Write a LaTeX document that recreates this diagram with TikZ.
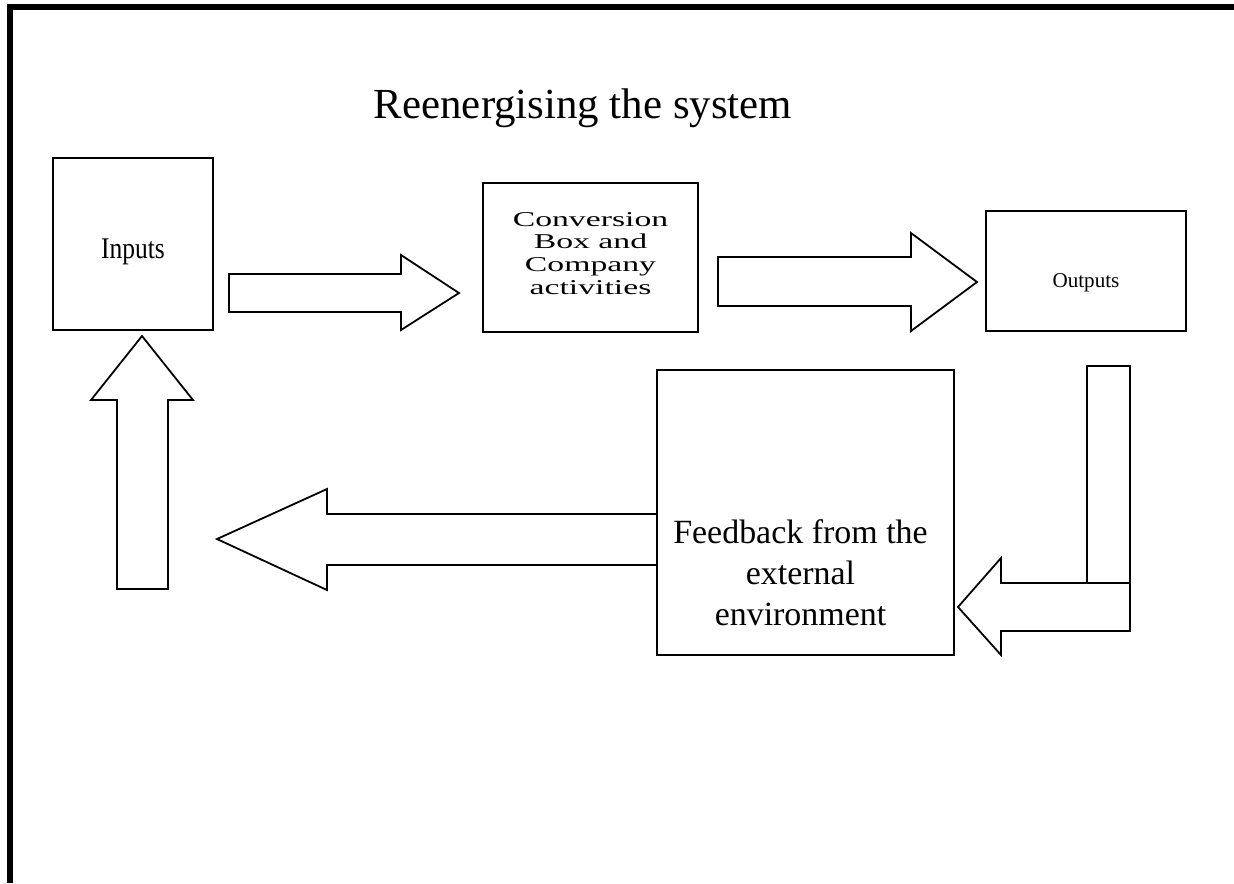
\documentclass[tikz,border=0pt]{standalone}
\usepackage{fontspec}
\setmainfont{Liberation Serif}
\newfontfamily\widefont[FakeStretch=1.6]{Liberation Serif}
\newfontfamily\narrowfont[FakeStretch=0.85]{Liberation Serif}
\usepackage{tikz}

\tikzset{
  box/.style={draw, line width=0.45pt, inner sep=0pt},
  blockarrow/.style={draw, line width=0.5pt, line join=miter}
}

\begin{document}
\begin{tikzpicture}[x=0.28pt, y=-0.28pt]
  \useasboundingbox (0,0) rectangle (1234,883);
  % page frame: thick rule on top and left only
  \draw[line width=1.7pt] (10,883) -- (10,7) -- (1234,7);
  % title
  \node (title) at (583,108) {\fontsize{12}{14}\selectfont Reenergising the system};
  % the three boxes of the top row
  \node[box, minimum width=160*0.28pt, minimum height=172*0.28pt,
        label={[yshift=-8*0.28pt, font=\narrowfont\fontsize{8.4}{10}\selectfont]center:Inputs}] (inputs) at (133,244) {};
  \node[box, minimum width=215*0.28pt, minimum height=149*0.28pt,
        label={[yshift=4*0.28pt, align=center, font=\widefont\fontsize{5.9}{6.4}\selectfont]center:Conversion\\Box and\\Company\\activities}] (conv) at (590.5,257.5) {};
  \node[box, minimum width=200*0.28pt, minimum height=120*0.28pt,
        label={[yshift=-12*0.28pt, font=\fontsize{5.9}{7}\selectfont]center:Outputs}] (outputs) at (1086,271) {};
  % feedback box, text sits low
  \node[box, minimum width=297*0.28pt, minimum height=285*0.28pt,
        label={[yshift=-60*0.28pt, xshift=-5*0.28pt, align=center, font=\fontsize{9.5}{11.5}\selectfont]center:Feedback from the\\external\\environment}] (feedback) at (805.5,512.5) {};
  % inputs -> conversion
  \draw[blockarrow] (229,274) -- (401,274) -- (401,255) -- (459,293) -- (401,330) -- (401,312) -- (229,312) -- cycle;
  % conversion -> outputs
  \draw[blockarrow] (718,257) -- (911,257) -- (911,233) -- (977,282) -- (911,331) -- (911,306) -- (718,306) -- cycle;
  % outputs down and back into the feedback box
  \draw[blockarrow] (1087,583) -- (1087,366) -- (1130,366) -- (1130,583);
  \draw[blockarrow] (1130,583) -- (1001,583) -- (1001,558) -- (958,607) -- (1001,655) -- (1001,631) -- (1130,631) -- cycle;
  % feedback -> back to the left
  \draw[blockarrow] (657,514) -- (327,514) -- (327,489) -- (217,539) -- (327,590) -- (327,565) -- (657,565);
  % up into the inputs box
  \draw[blockarrow] (117,589) -- (117,400) -- (91,400) -- (142,336) -- (193,400) -- (168,400) -- (168,589) -- cycle;
\end{tikzpicture}
\end{document}
